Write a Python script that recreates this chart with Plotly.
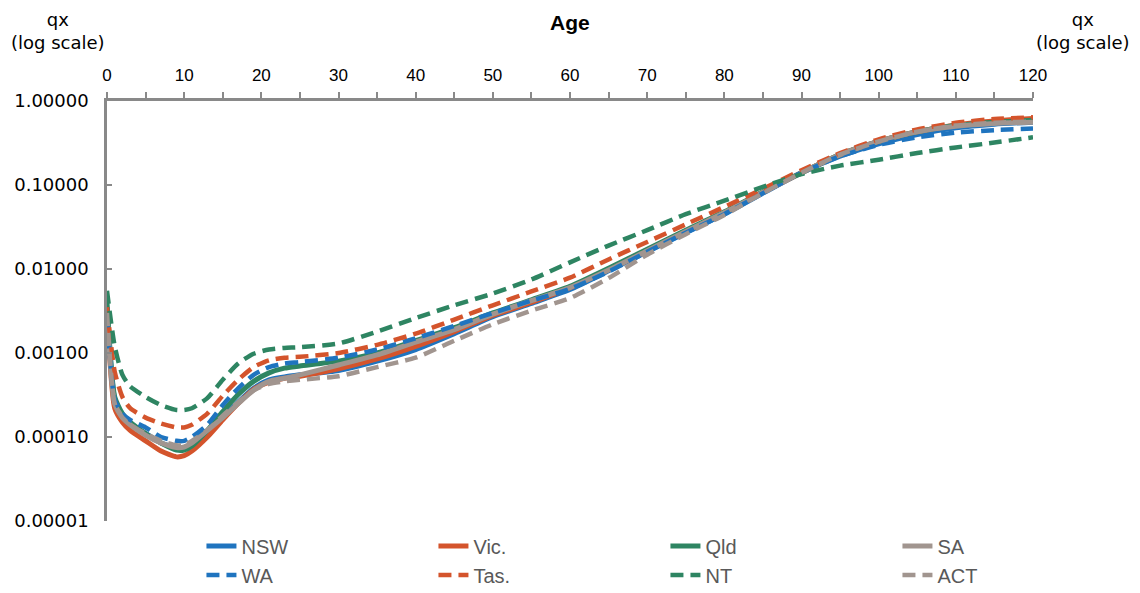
import plotly.graph_objects as go

ages = [0, 1, 2, 3, 5, 7, 9, 10, 11, 13, 15, 17, 19, 21, 23, 25, 30, 35, 40, 45, 50, 55,
        60, 65, 70, 75, 80, 85, 90, 95, 100, 105, 110, 115, 120]

nsw = [0.0035, 0.00028, 0.00017, 0.00014, 0.00011, 0.000085, 0.000075, 0.000075, 0.00008,
       0.00011, 0.00017, 0.00026, 0.00038, 0.00048, 0.00052, 0.00055, 0.00062, 0.0008, 0.0011,
       0.0017, 0.0027, 0.0039, 0.0057, 0.0095, 0.016, 0.027, 0.045, 0.08, 0.14, 0.22, 0.31,
       0.40, 0.48, 0.53, 0.56]
vic = [0.0033, 0.00022, 0.00015, 0.00012, 0.00009, 0.000068, 0.000058, 0.00006, 0.000068,
       0.0001, 0.00016, 0.00025, 0.00037, 0.00045, 0.0005, 0.00053, 0.00065, 0.00085, 0.0012,
       0.0018, 0.0028, 0.004, 0.006, 0.0098, 0.0165, 0.028, 0.047, 0.082, 0.14, 0.23, 0.33,
       0.43, 0.52, 0.58, 0.62]
qld = [0.004, 0.0003, 0.00019, 0.00015, 0.00011, 0.000085, 0.00007, 0.00007, 0.000078,
       0.00012, 0.0002, 0.00032, 0.00046, 0.00058, 0.00066, 0.0007, 0.0008, 0.001, 0.0014,
       0.002, 0.003, 0.0043, 0.0062, 0.0102, 0.0172, 0.029, 0.048, 0.083, 0.14, 0.23, 0.33,
       0.43, 0.51, 0.56, 0.59]
sa = [0.003, 0.00025, 0.00017, 0.00014, 0.000105, 0.000085, 0.000075, 0.000076, 0.000085,
      0.00012, 0.00017, 0.00025, 0.00036, 0.00046, 0.0005, 0.00055, 0.00072, 0.00095, 0.00135,
      0.0019, 0.0029, 0.0042, 0.006, 0.0097, 0.0165, 0.028, 0.047, 0.082, 0.14, 0.23, 0.33,
      0.43, 0.50, 0.54, 0.56]
wa = [0.0028, 0.00028, 0.00019, 0.00016, 0.00013, 0.0001, 0.00009, 0.00009, 0.0001,
      0.00014, 0.00024, 0.00038, 0.00055, 0.00068, 0.00075, 0.00078, 0.00088, 0.0011, 0.0015,
      0.0021, 0.003, 0.0042, 0.0058, 0.0093, 0.016, 0.027, 0.045, 0.08, 0.14, 0.22, 0.30,
      0.37, 0.42, 0.45, 0.47]
tas = [0.0035, 0.0006, 0.0003, 0.00022, 0.00017, 0.000145, 0.00013, 0.00013, 0.00014,
       0.00019, 0.00031, 0.00048, 0.00068, 0.00082, 0.00088, 0.0009, 0.001, 0.00125, 0.0017,
       0.0025, 0.0037, 0.0054, 0.0079, 0.013, 0.021, 0.034, 0.055, 0.09, 0.15, 0.24, 0.35,
       0.46, 0.55, 0.61, 0.64]
nt = [0.0055, 0.0012, 0.00055, 0.0004, 0.0003, 0.00024, 0.00021, 0.00021, 0.00022,
      0.00029, 0.00048, 0.00075, 0.00098, 0.0011, 0.00115, 0.00117, 0.0013, 0.0018, 0.0026,
      0.0037, 0.0051, 0.0075, 0.012, 0.019, 0.029, 0.045, 0.065, 0.095, 0.135, 0.17, 0.20,
      0.24, 0.28, 0.32, 0.37]
act = [0.003, 0.00025, 0.00017, 0.00014, 0.00011, 0.00009, 0.00008, 0.00008, 0.00009,
       0.00012, 0.00018, 0.00026, 0.00036, 0.00043, 0.00046, 0.00048, 0.00053, 0.00068, 0.00088,
       0.0014, 0.0022, 0.0032, 0.0045, 0.0078, 0.0148, 0.026, 0.044, 0.08, 0.14, 0.23, 0.33,
       0.43, 0.51, 0.55, 0.57]

state_names = ["NSW", "Vic.", "Qld", "SA", "WA", "Tas.", "NT", "ACT"]
state_values = [nsw, vic, qld, sa, wa, tas, nt, act]

y_tickvals = [0.00001, 0.0001, 0.001, 0.01, 0.1, 1.0]
y_ticktext = ["0.00001", "0.00010", "0.00100", "0.01000", "0.10000", "1.00000"]

BLUE = "#1F74BF"
RED = "#D4542C"
GREEN = "#2E8562"
GREY = "#A1958F"
colors = [BLUE, RED, GREEN, GREY, BLUE, RED, GREEN, GREY]
dashes = ["solid"] * 4 + ["13px,7px"] * 4
AXIS = "#898989"

fig = go.Figure()
for name, vals, col, dash in zip(state_names, state_values, colors, dashes):
    fig.add_trace(go.Scatter(
        x=ages, y=vals, name=name, mode="lines",
        line=dict(color=col, width=5 if dash == "solid" else 4.5, dash=dash,
                  shape="spline", smoothing=0.6),
    ))

fig.update_layout(
    width=1132, height=585,
    margin=dict(l=99, r=107, t=93, b=72, autoexpand=False),
    plot_bgcolor="white", paper_bgcolor="white",
    font=dict(family="Liberation Sans, Arial, sans-serif", color="black"),
    showlegend=True,
    legend=dict(
        orientation="h", x=0.102, xanchor="left", y=-0.013, yanchor="top",
        entrywidth=187, entrywidthmode="pixels",
        font=dict(size=20, color="#595959", family="Liberation Sans, Arial, sans-serif"),
        bgcolor="rgba(0,0,0,0)", traceorder="normal",
    ),
    xaxis=dict(
        side="top", range=[0, 120], tickmode="linear", tick0=0, dtick=10,
        ticks="outside", ticklen=6, tickwidth=2, tickcolor=AXIS,
        minor=dict(tickmode="linear", tick0=0, dtick=5, ticks="outside", ticklen=6,
                   tickwidth=2, tickcolor=AXIS),
        showline=True, linecolor=AXIS, linewidth=2.5, mirror=False,
        showgrid=False, zeroline=False, ticklabelstandoff=4,
        tickfont=dict(size=17, color="black"),
    ),
    yaxis=dict(
        type="log", range=[-5, 0], tickvals=y_tickvals, ticktext=y_ticktext,
        ticks="inside", ticklen=5, tickwidth=2, tickcolor=AXIS,
        showline=True, linecolor=AXIS, linewidth=2.5,
        showgrid=False, zeroline=False, ticklabelstandoff=12,
        tickfont=dict(size=18, color="black", family="DejaVu Sans, sans-serif"),
    ),
    yaxis2=dict(
        type="log", range=[-5, 0], tickvals=y_tickvals, ticktext=y_ticktext,
        overlaying="y", side="right", anchor="x",
        ticks="inside", ticklen=5, tickwidth=2, tickcolor=AXIS,
        showline=True, linecolor=AXIS, linewidth=2.5,
        showgrid=False, zeroline=False, ticklabelstandoff=16,
        tickfont=dict(size=18, color="black", family="DejaVu Sans, sans-serif"),
    ),
    annotations=[
        dict(text="<b>Age</b>", x=0.5, y=1, xref="paper", yref="paper", yshift=79,
             showarrow=False, font=dict(size=21, color="black"), xanchor="center", yanchor="middle"),
        dict(text="qx<br>(log scale)", x=-0.053, y=1, xref="paper", yref="paper", yshift=70,
             showarrow=False, font=dict(size=18, color="black", family="DejaVu Sans, sans-serif"),
             xanchor="center", yanchor="middle", align="center"),
        dict(text="qx<br>(log scale)", x=1.054, y=1, xref="paper", yref="paper", yshift=70,
             showarrow=False, font=dict(size=18, color="black", family="DejaVu Sans, sans-serif"),
             xanchor="center", yanchor="middle", align="center"),
    ],
)

fig.write_html("out.html")
